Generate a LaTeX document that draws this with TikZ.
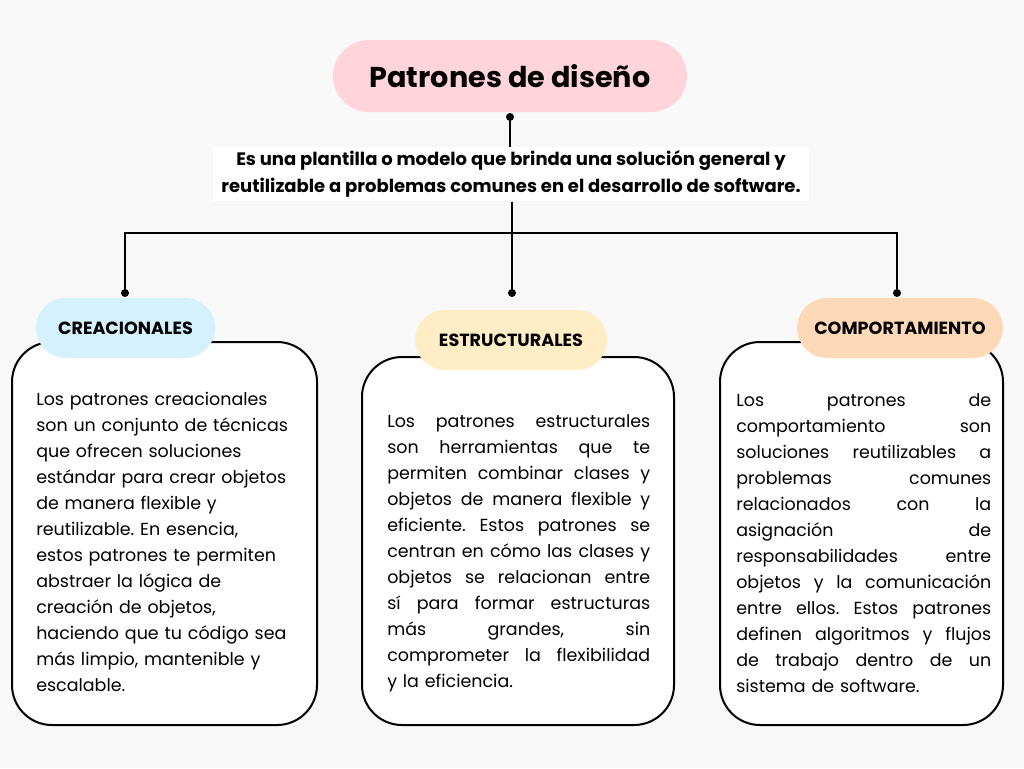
\documentclass[tikz,border=0pt]{standalone}
\usepackage{fontspec}
\setmainfont{Poppins}
\newfontfamily\popfont{Poppins}
\frenchspacing
\definecolor{bgc}{HTML}{F8F8F8}
\definecolor{pinkc}{HTML}{FFD4DB}
\definecolor{bluec}{HTML}{D4F1FD}
\definecolor{yellowc}{HTML}{FFEDC6}
\definecolor{orangec}{HTML}{FED9B8}
\newcommand\jline[1]{\noindent\hbox to \hsize{\spaceskip=0pt\relax\xspaceskip=0pt\relax #1}\par}
\newcommand\lastline[1]{\noindent\hbox to \hsize{#1\hfil}\par}
\begin{document}
\begin{tikzpicture}[x=0.75pt,y=-0.75pt,
  pill/.style={rounded corners=22.5pt,minimum height=45pt,inner sep=0pt,font=\popfont\bfseries\fontsize{13.2}{15}\selectfont},
  card/.style={draw=black,line width=1.5pt,fill=white,rounded corners=30pt,inner sep=0pt},
  body/.style={inner sep=0pt,anchor=north west,font=\frenchspacing\fontsize{13.1}{19.5}\selectfont},
  conn/.style={line width=1.5pt,black},
  dot/.style={circle,fill=black,inner sep=0pt,minimum size=6pt}]
\fill[bgc] (0,0) rectangle (1024,768);
\useasboundingbox (0,0) rectangle (1024,768);
% title
\node[fill=pinkc,rounded corners=27pt,minimum width=265.5pt,minimum height=54pt,inner sep=0pt,font=\popfont\bfseries\fontsize{21.5}{25}\selectfont] (title) at (510,76) {Patrones de diseño};
% subtitle
\node[fill=white,inner xsep=6pt,inner ysep=3pt,align=center,font=\popfont\bfseries\fontsize{13.5}{20}\selectfont] (sub) at (511,174) {Es una plantilla o modelo que brinda una solución general y\\reutilizable a problemas comunes en el desarrollo de software.};
% cards
\node[card,minimum width=228.75pt,minimum height=287.25pt] (cl) at (164.5,533.5) {};
\node[card,minimum width=234pt,minimum height=276pt] (cm) at (518,541) {};
\node[card,minimum width=212.25pt,minimum height=287.25pt] (cr) at (861.5,533.5) {};
% pills
\node[pill,fill=bluec,minimum width=134.25pt] (pl) at (125.5,328) {CREACIONALES};
\node[pill,fill=yellowc,minimum width=144pt] (pm) at (511,340) {ESTRUCTURALES};
\node[pill,fill=orangec,minimum width=154.5pt] (pr) at (900,328) {COMPORTAMIENTO};
% connector points
\node[dot] (d0) at (510,117) {};
\node[dot] (dl) at (125,293) {};
\node[dot] (dm) at (512,293) {};
\node[dot] (dr) at (897,293) {};
\coordinate (jl) at (125,233);
\coordinate (jr) at (897,233);
\draw[conn] (d0) -- (sub.north -| d0);
\draw[conn] (sub.south -| dm) -- (dm);
\draw[conn] (dl) -- (jl) -- (jr) -- (dr);
% body texts
\node[body,text width=215pt,align=left] (tl) at (36,392) {Los patrones creacionales\\son un conjunto de técnicas\\que ofrecen soluciones\\estándar para crear objetos\\de manera flexible y\\reutilizable. En esencia,\\estos patrones te permiten\\abstraer la lógica de\\creación de objetos,\\haciendo que tu código sea\\más limpio, mantenible y\\escalable.};
\node[body,text width=197.25pt] (tm) at (387,414) {\jline{Los patrones estructurales}\jline{son herramientas que te}\jline{permiten combinar clases y}\jline{objetos de manera flexible y}\jline{eficiente. Estos patrones se}\jline{centran en cómo las clases y}\jline{objetos se relacionan entre}\jline{sí para formar estructuras}\jline{más grandes, sin}\jline{comprometer la flexibilidad}\lastline{y la eficiencia.}};
\node[body,text width=191.25pt] (tr) at (736,393) {\jline{Los patrones de}\jline{comportamiento son}\jline{soluciones reutilizables a}\jline{problemas comunes}\jline{relacionados con la}\jline{asignación de}\jline{responsabilidades entre}\jline{objetos y la comunicación}\jline{entre ellos. Estos patrones}\jline{definen algoritmos y flujos}\jline{de trabajo dentro de un}\lastline{sistema de software.}};
\end{tikzpicture}
\end{document}
